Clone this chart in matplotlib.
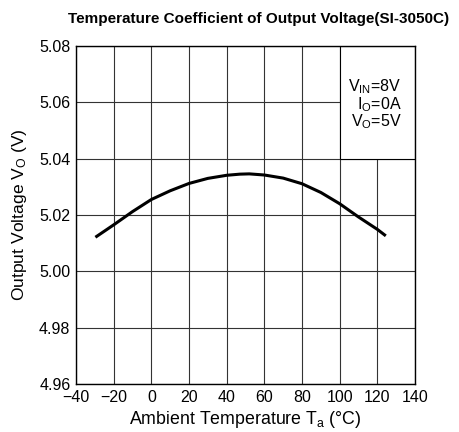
"""
Temperature coefficient of output voltage (SI-3050C)
"""
import matplotlib
matplotlib.use("Agg")
from matplotlib import pyplot as plt
from matplotlib.patches import Rectangle

# curve
temp_c = [-29.7, -20, -10, 0, 10, 20, 30, 40, 47, 52, 60, 70, 80, 90, 100, 110, 120, 124.5]
vout = [5.0121, 5.0165, 5.0212, 5.0255, 5.0286, 5.0312, 5.0330, 5.0341, 5.0345, 5.0346,
        5.0342, 5.0331, 5.0311, 5.0280, 5.0240, 5.0193, 5.0149, 5.0126]

x_ticks = [-40, -20, 0, 20, 40, 60, 80, 100, 120, 140]
y_ticks = [4.96, 4.98, 5.00, 5.02, 5.04, 5.06, 5.08]
conditions = [r"V$_{\mathregular{IN}}$=8V", r"I$_{\mathregular{O}}$=0A", r"V$_{\mathregular{O}}$=5V"]

plt.rcParams["font.family"] = ["Liberation Sans", "DejaVu Sans"]
plt.rcParams["mathtext.default"] = "regular"

fig = plt.figure(figsize=(4.6, 4.32), dpi=100)
ax = fig.add_axes([76 / 460, 1 - 384 / 432, (415 - 76) / 460, (384 - 46) / 432])

ax.plot(temp_c, vout, color="black", linewidth=2.2, zorder=3,
        solid_joinstyle="round", solid_capstyle="butt")

ax.set_xlim(-40, 140)
ax.set_ylim(4.96, 5.08)
ax.set_xticks(x_ticks)
ax.set_yticks(y_ticks)
ax.set_yticklabels([f"{v:.2f}" for v in y_ticks])
ax.tick_params(length=0, labelsize=11.5, pad=4)
ax.grid(True, color="#333333", linewidth=0.8)
for sp in ax.spines.values():
    sp.set_linewidth(1.0)
    sp.set_zorder(5)

# conditions box in the upper right corner
ax.add_patch(Rectangle((100, 5.04), 40, 0.04, facecolor="white", edgecolor="black",
                       linewidth=0.8, zorder=4))
for k, txt in enumerate(conditions):
    ax.text(132.8, 5.0638 - k * 0.0062, txt, ha="right", va="baseline",
            fontsize=11.5, zorder=5)

ax.set_xlabel(r"Ambient Temperature T$_{\mathregular{a}}$ (°C)", fontsize=12.8, labelpad=3)
ax.set_ylabel(r"Output Voltage V$_{\mathregular{O}}$ (V)", fontsize=12.6, labelpad=7)

fig.text(259 / 460, 1 - 19 / 432, "Temperature Coefficient of Output Voltage(SI-3050C)",
         ha="center", va="center", fontsize=11, fontweight="bold")

fig.savefig("out.png", dpi=100)
